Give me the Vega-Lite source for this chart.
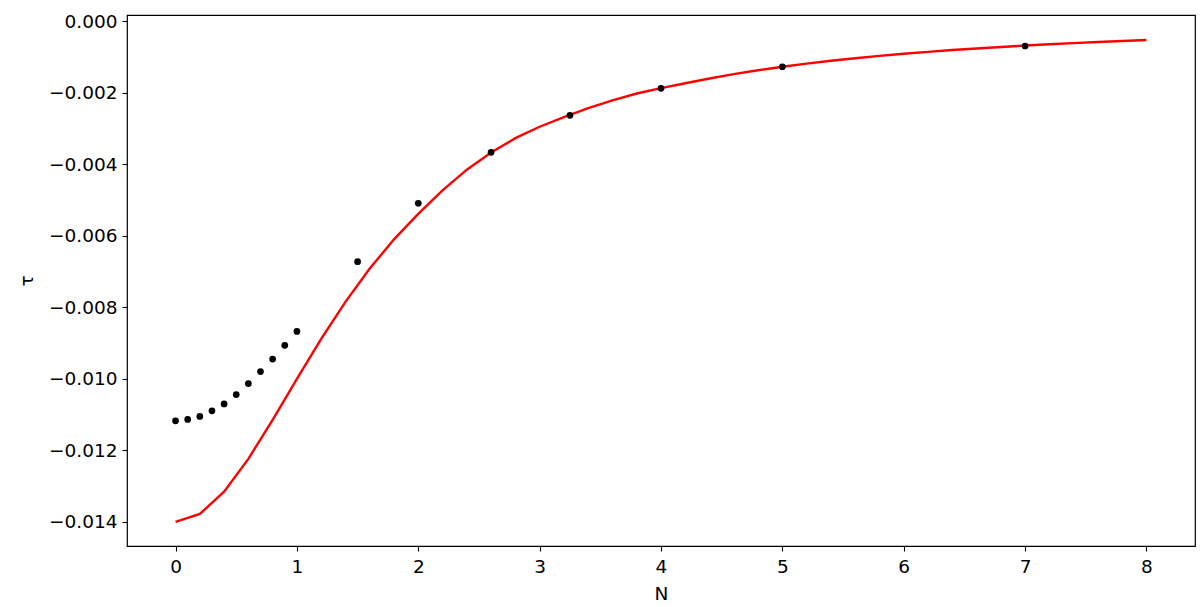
{
  "$schema": "https://vega.github.io/schema/vega-lite/v6.json",
  "autosize": "none",
  "width": 1068,
  "height": 531,
  "padding": {"left": 127, "top": 15, "right": 5, "bottom": 61},
  "background": "white",
  "config": {
    "view": {"stroke": "black", "strokeWidth": 1.2},
    "font": "DejaVu Sans",
    "axis": {
      "grid": false,
      "domain": false,
      "tickColor": "black",
      "tickSize": 5,
      "tickWidth": 1.1,
      "labelColor": "black",
      "labelFont": "DejaVu Sans",
      "labelFontSize": 18.5,
      "titleFont": "DejaVu Sans",
      "titleFontSize": 18.5,
      "titleFontWeight": "normal",
      "titleColor": "black"
    }
  },
  "datasets": {
    "fit": [
      {"N": 0.0, "tau": -0.014},
      {"N": 0.2, "tau": -0.01378},
      {"N": 0.4, "tau": -0.013158},
      {"N": 0.6, "tau": -0.012238},
      {"N": 0.8, "tau": -0.011146},
      {"N": 1.0, "tau": -0.01},
      {"N": 1.2, "tau": -0.008883},
      {"N": 1.4, "tau": -0.007848},
      {"N": 1.6, "tau": -0.006917},
      {"N": 1.8, "tau": -0.006098},
      {"N": 2.0, "tau": -0.005385},
      {"N": 2.2, "tau": -0.00473},
      {"N": 2.4, "tau": -0.00415},
      {"N": 2.6, "tau": -0.00367},
      {"N": 2.8, "tau": -0.00327},
      {"N": 3.0, "tau": -0.00295},
      {"N": 3.2, "tau": -0.00268},
      {"N": 3.4, "tau": -0.00243},
      {"N": 3.6, "tau": -0.00221},
      {"N": 3.8, "tau": -0.00202},
      {"N": 4.0, "tau": -0.00187},
      {"N": 4.2, "tau": -0.001735},
      {"N": 4.4, "tau": -0.0016},
      {"N": 4.6, "tau": -0.001479},
      {"N": 4.8, "tau": -0.00137},
      {"N": 5.0, "tau": -0.001273},
      {"N": 5.2, "tau": -0.001185},
      {"N": 5.4, "tau": -0.001105},
      {"N": 5.6, "tau": -0.001034},
      {"N": 5.8, "tau": -0.000968},
      {"N": 6.0, "tau": -0.000909},
      {"N": 6.2, "tau": -0.000855},
      {"N": 6.4, "tau": -0.000805},
      {"N": 6.6, "tau": -0.00076},
      {"N": 6.8, "tau": -0.000718},
      {"N": 7.0, "tau": -0.00068},
      {"N": 7.2, "tau": -0.000644},
      {"N": 7.4, "tau": -0.000611},
      {"N": 7.6, "tau": -0.000581},
      {"N": 7.8, "tau": -0.000553},
      {"N": 8.0, "tau": -0.000526}
    ],
    "obs": [
      {"N": 0.0, "tau": -0.011175},
      {"N": 0.1, "tau": -0.011136},
      {"N": 0.2, "tau": -0.011052},
      {"N": 0.3, "tau": -0.010896},
      {"N": 0.4, "tau": -0.010701},
      {"N": 0.5, "tau": -0.010439},
      {"N": 0.6, "tau": -0.010132},
      {"N": 0.7, "tau": -0.009797},
      {"N": 0.8, "tau": -0.009446},
      {"N": 0.9, "tau": -0.009064},
      {"N": 1.0, "tau": -0.008673},
      {"N": 1.5, "tau": -0.006725},
      {"N": 2.0, "tau": -0.00509},
      {"N": 2.6, "tau": -0.003665},
      {"N": 3.25, "tau": -0.00263},
      {"N": 4.0, "tau": -0.001877},
      {"N": 5.0, "tau": -0.001272},
      {"N": 7.0, "tau": -0.000692}
    ]
  },
  "encoding": {
    "x": {
      "field": "N",
      "type": "quantitative",
      "scale": {"domain": [-0.4, 8.4], "nice": false, "zero": false},
      "axis": {"title": "N", "values": [0, 1, 2, 3, 4, 5, 6, 7, 8], "format": "d", "labelPadding": 6, "titlePadding": 9}
    },
    "y": {
      "field": "tau",
      "type": "quantitative",
      "scale": {"domain": [-0.014675, 0.000175], "nice": false, "zero": false},
      "axis": {"title": "τ", "values": [-0.014, -0.012, -0.01, -0.008, -0.006, -0.004, -0.002, 0], "format": ".3f", "labelPadding": 5, "titlePadding": 12}
    }
  },
  "layer": [
    {
      "data": {"name": "fit"},
      "mark": {"type": "line", "color": "red", "strokeWidth": 2.4}
    },
    {
      "data": {"name": "obs"},
      "mark": {"type": "circle", "color": "black", "opacity": 1, "size": 45}
    }
  ]
}
